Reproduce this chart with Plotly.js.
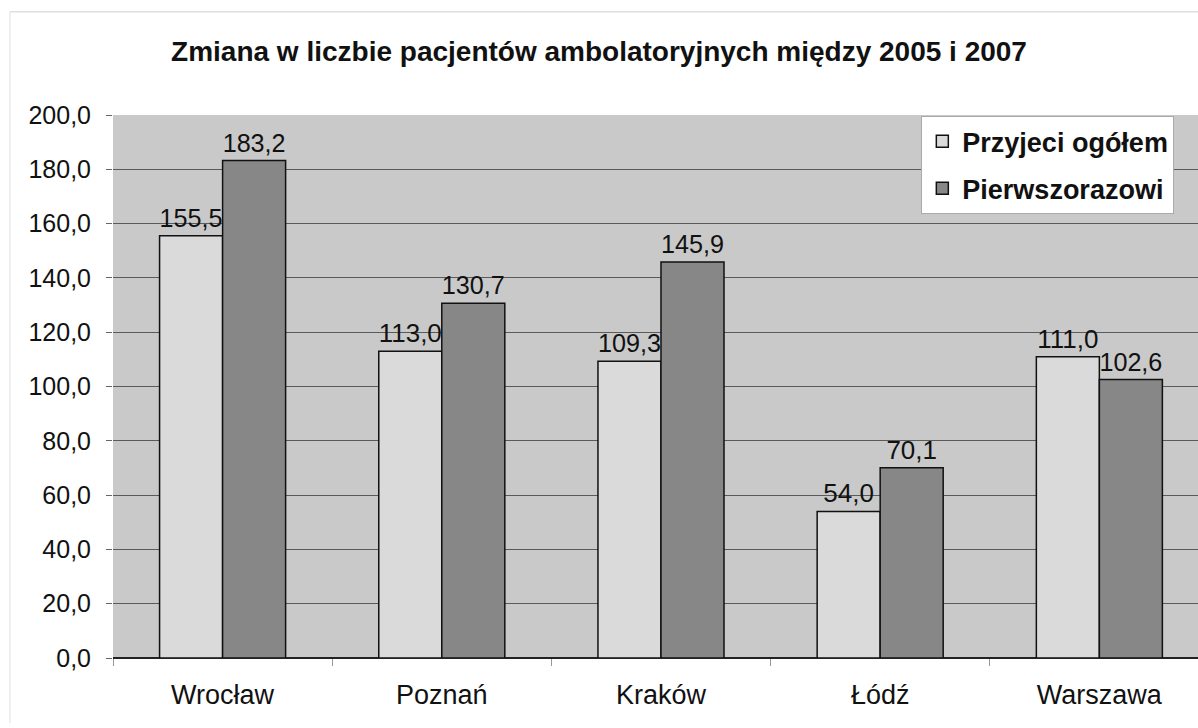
<!DOCTYPE html>
<html>
<head>
<meta charset="utf-8">
<script src="https://cdn.plot.ly/plotly-3.0.1.min.js"></script>
<style>html,body{margin:0;padding:0;background:#fff;}#chart{width:1198px;height:728px;}</style>
</head>
<body>
<div id="chart"></div>
<script>
const categories = ["Wrocław", "Poznań", "Kraków", "Łódź", "Warszawa"];
const seriesNames = ["Przyjeci ogółem", "Pierwszorazowi"];
const przyjeciOgolem = [155.5, 113.0, 109.3, 54.0, 111.0];
const pierwszorazowi = [183.2, 130.7, 145.9, 70.1, 102.6];
const yTickVals = [0, 20, 40, 60, 80, 100, 120, 140, 160, 180, 200];

const common = {
  type: 'bar',
  x: categories,
  textposition: 'outside',
  texttemplate: '%{y:.1f}',
  textfont: {family: 'Arial, Liberation Sans, sans-serif', size: 26, color: '#111'},
  cliponaxis: false,
  hoverinfo: 'skip'
};

const traces = [
  Object.assign({}, common, {
    name: seriesNames[0], y: przyjeciOgolem, legendgroup: 'a',
    marker: {color: '#dadada', line: {color: '#111', width: 1.5}}
  }),
  Object.assign({}, common, {
    name: seriesNames[1], y: pierwszorazowi, legendgroup: 'b',
    marker: {color: '#878787', line: {color: '#111', width: 1.5}}
  })
];

const layout = {
  width: 1198, height: 728,
  margin: {l: 113, r: 0, t: 115, b: 70},
  paper_bgcolor: '#ffffff',
  plot_bgcolor: '#c9c9c9',
  font: {family: 'Arial, Liberation Sans, sans-serif', color: '#111'},
  separators: ',.',
  barmode: 'group',
  bargap: 0.425,
  bargroupgap: 0,
  title: {
    text: '<b>Zmiana w liczbie pacjentów ambolatoryjnych między 2005 i 2007</b>',
    font: {size: 28, color: '#111'},
    x: 0.5, xref: 'container', xanchor: 'center',
    y: 0.93, yref: 'container', yanchor: 'middle'
  },
  xaxis: {
    type: 'category',
    range: [-0.5, 4.45],
    tickson: 'boundaries',
    ticks: 'outside', ticklen: 7, tickcolor: '#999',
    ticklabelstandoff: 18,
    showgrid: false,
    tickfont: {size: 27, color: '#111'},
    showline: false
  },
  yaxis: {
    range: [0, 200],
    tickvals: yTickVals,
    tickformat: '.1f',
    ticks: 'outside', ticklen: 6, tickcolor: '#666',
    ticklabelstandoff: 10,
    tickfont: {size: 25, color: '#111'},
    showgrid: true, gridcolor: '#5a5a5a', gridwidth: 1,
    zeroline: true, zerolinecolor: '#222', zerolinewidth: 1.5,
    showline: false
  },
  legend: {
    x: 0.745, xanchor: 'left', y: 0.998, yanchor: 'top',
    bgcolor: '#ffffff', bordercolor: '#aaaaaa', borderwidth: 1,
    font: {size: 27, color: '#111', weight: 'bold'},
    traceorder: 'grouped', tracegroupgap: 9,
    itemwidth: 30
  },
  shapes: [
    {type: 'line', xref: 'paper', yref: 'paper', x0: -0.095, x1: 1.01, y0: 1.19, y1: 1.19, line: {color: '#cfcfcf', width: 1}},
    {type: 'line', xref: 'paper', yref: 'paper', x0: -0.095, x1: -0.095, y0: 1.19, y1: -0.12, line: {color: '#e0e0e0', width: 1}}
  ],
  showlegend: true
};

Plotly.newPlot('chart', traces, layout, {displayModeBar: false, staticPlot: true});
</script>
</body>
</html>
